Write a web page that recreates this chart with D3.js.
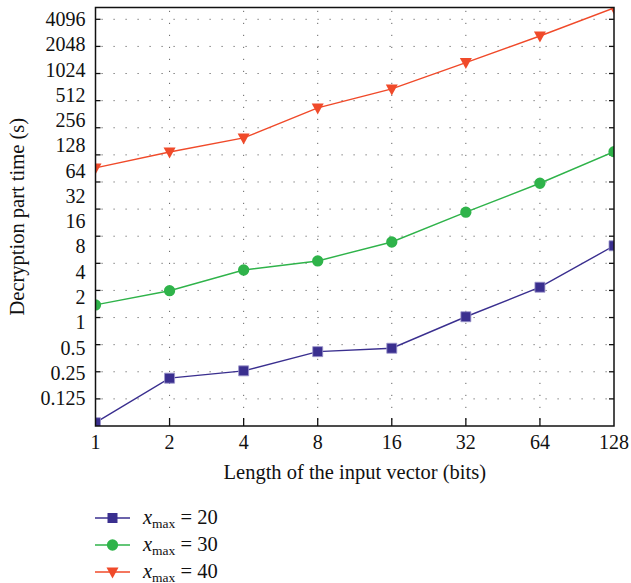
<!DOCTYPE html>
<html>
<head>
<meta charset="utf-8">
<script src="https://cdn.jsdelivr.net/npm/d3@7"></script>
<style>
  body { margin: 0; background: #fff; }
  text { font-family: "Liberation Serif", "DejaVu Serif", serif; fill: #111; }
</style>
</head>
<body>
<svg id="chart" width="631" height="583"></svg>
<script>
const lengths = [1, 2, 4, 8, 16, 32, 64, 128]
const yTicks = [0.125, 0.25, 0.5, 1, 2, 4, 8, 16, 32, 64, 128, 256, 512, 1024, 2048, 4096]

const time20 = [0.064, 0.217, 0.265, 0.449, 0.493, 1.17, 2.63, 8.2]
const time30 = [1.62, 2.39, 4.22, 5.41, 9.1, 20.6, 45.6, 108.5]
const time40 = [69.4, 107.6, 158, 360, 606, 1250, 2590, 5600]

const series = [
  { name: '20', values: time20, color: '#3a2f8f', marker: 'square' },
  { name: '30', values: time30, color: '#2fb34a', marker: 'circle' },
  { name: '40', values: time40, color: '#f04a2a', marker: 'triangle' }
]

const margin = { top: 7.5, right: 17, bottom: 157, left: 95.5 }
const W = 631, H = 583

const svg = d3.select('#chart')

const x = d3.scaleLog().base(2)
  .domain([1, 128])
  .range([margin.left, W - margin.right])

const y = d3.scaleLog().base(2)
  .domain([0.0584, 5662])
  .range([H - margin.bottom, margin.top])

// the grid of the original has 15 even steps, not one per label
const grid = d3.scaleLinear().domain([0, 15]).range([y.range()[0], y(4096)])
const gridSteps = d3.range(1, 16)

const markerPath = {
  square: d3.symbol(d3.symbolSquare, 100)(),
  circle: d3.symbol(d3.symbolCircle, 100)(),
  triangle: 'M-6,-4.5 L6,-4.5 L0,6.5 Z'
}

svg.append('defs').append('clipPath').attr('id', 'plot-clip')
  .append('rect')
  .attr('x', x.range()[0])
  .attr('y', y.range()[1])
  .attr('width', x.range()[1] - x.range()[0])
  .attr('height', y.range()[0] - y.range()[1])

// dotted grid
const gridG = svg.append('g')
  .attr('stroke', '#666')
  .attr('stroke-width', 1)
  .attr('stroke-dasharray', '1.2,10.8')

gridG.selectAll('line.h')
  .data(gridSteps)
  .join('line')
  .attr('class', 'h')
  .attr('x1', x.range()[0] + 6)
  .attr('x2', x.range()[1])
  .attr('y1', d => grid(d))
  .attr('y2', d => grid(d))

gridG.selectAll('line.v')
  .data(lengths.slice(1, -1))
  .join('line')
  .attr('class', 'v')
  .attr('x1', d => x(d))
  .attr('x2', d => x(d))
  .attr('y1', y.range()[0] - 6)
  .attr('y2', y.range()[1])

// ticks on left / right / bottom
const ticksG = svg.append('g').attr('stroke', '#111').attr('stroke-width', 1.3)
ticksG.selectAll('line.l')
  .data(gridSteps)
  .join('line')
  .attr('x1', x.range()[0])
  .attr('x2', x.range()[0] + 5)
  .attr('y1', d => grid(d))
  .attr('y2', d => grid(d))
ticksG.selectAll('line.r')
  .data(gridSteps)
  .join('line')
  .attr('x1', x.range()[1])
  .attr('x2', x.range()[1] - 5)
  .attr('y1', d => grid(d))
  .attr('y2', d => grid(d))
ticksG.selectAll('line.b')
  .data(lengths.slice(1, -1))
  .join('line')
  .attr('x1', d => x(d))
  .attr('x2', d => x(d))
  .attr('y1', y.range()[0])
  .attr('y2', y.range()[0] - 8)

// lines + markers
const plot = svg.append('g').attr('clip-path', 'url(#plot-clip)')
const line = d3.line().x((d, i) => x(lengths[i])).y(d => y(d))

series.forEach(s => {
  plot.append('path')
    .datum(s.values)
    .attr('d', line)
    .attr('fill', 'none')
    .attr('stroke', s.color)
    .attr('stroke-width', 1.4)
  plot.selectAll(null)
    .data(s.values)
    .join('path')
    .attr('d', markerPath[s.marker])
    .attr('transform', (d, i) => `translate(${x(lengths[i])},${y(d)})`)
    .attr('fill', s.color)
    .attr('stroke', s.marker == 'square' ? '#9d97cc' : 'none')
    .attr('stroke-width', 0.8)
})

// frame
svg.append('rect')
  .attr('x', x.range()[0])
  .attr('y', y.range()[1])
  .attr('width', x.range()[1] - x.range()[0])
  .attr('height', y.range()[0] - y.range()[1])
  .attr('fill', 'none')
  .attr('stroke', '#111')
  .attr('stroke-width', 1.5)

// tick labels
svg.append('g')
  .selectAll('text')
  .data(yTicks)
  .join('text')
  .attr('x', x.range()[0] - 10)
  .attr('y', d => y(d))
  .attr('dy', '0.34em')
  .attr('text-anchor', 'end')
  .style('font-size', '20px')
  .text(d => d)

svg.append('g')
  .selectAll('text')
  .data(lengths)
  .join('text')
  .attr('x', d => x(d))
  .attr('y', y.range()[0] + 23)
  .attr('text-anchor', 'middle')
  .style('font-size', '20px')
  .text(d => d)

svg.append('text')
  .attr('x', (x.range()[0] + x.range()[1]) / 2)
  .attr('y', y.range()[0] + 53)
  .attr('text-anchor', 'middle')
  .style('font-size', '20.5px')
  .text('Length of the input vector (bits)')

svg.append('text')
  .attr('transform', `translate(24,${(y.range()[0] + y.range()[1]) / 2}) rotate(-90)`)
  .attr('text-anchor', 'middle')
  .style('font-size', '20.5px')
  .text('Decryption part time (s)')

// legend
const legend = svg.append('g')
  .selectAll('g')
  .data(series)
  .join('g')
  .attr('transform', (d, i) => `translate(95,${518 + i * 27})`)

legend.append('line')
  .attr('x1', 0).attr('x2', 35)
  .attr('stroke', d => d.color)
  .attr('stroke-width', 1.4)
legend.append('path')
  .attr('d', d => markerPath[d.marker])
  .attr('transform', 'translate(17.5,0)')
  .attr('fill', d => d.color)

const lt = legend.append('text')
  .attr('x', 48)
  .attr('y', 6)
  .style('font-size', '20.5px')
lt.append('tspan').style('font-style', 'italic').text('x')
lt.append('tspan').attr('dy', 3.5).style('font-size', '13.5px').text('max')
lt.append('tspan').attr('dy', -3.5).text(d => ' = ' + d.name)
</script>
</body>
</html>
